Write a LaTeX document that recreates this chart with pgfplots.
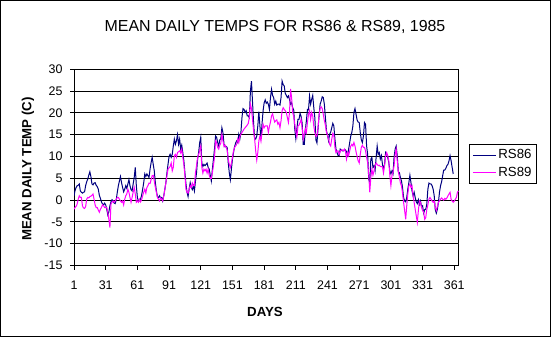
\documentclass[border=0pt]{standalone}
\usepackage{pgfplots}
\usepackage{pgfplotstable}
\pgfplotsset{compat=1.18}
\usepackage{fontspec}
\setmainfont{Liberation Sans}
\definecolor{rsblue}{RGB}{0,0,128}
\definecolor{rspink}{RGB}{255,0,255}
\pgfplotstableread{
d a b
1 1.0 -2.1
2 2.2 -1.7
3 2.9 -1.4
4 3.3 -0.9
5 3.4 0.2
6 3.7 1.0
7 2.1 0.6
8 1.8 0.6
9 1.6 -1.3
10 1.8 -1.8
11 1.9 -1.9
12 3.3 -1.5
13 4.2 0.2
14 4.8 0.6
15 5.7 0.5
16 6.5 0.8
17 5.4 0.9
18 3.7 1.1
19 3.5 1.4
20 3.9 0.2
21 4.0 -1.1
22 3.4 -1.7
23 3.1 -1.7
24 2.5 -2.3
25 1.1 -2.8
26 0.4 -2.1
27 -0.4 -1.7
28 -0.9 -1.1
29 -1.1 -1.3
30 -0.7 -1.7
31 -1.1 -1.7
32 -2.1 -1.7
33 -3.4 -2.8
34 -2.7 -4.4
35 -1.3 -6.3
36 -0.4 -0.9
37 0.1 -0.5
38 -0.2 -0.2
39 -0.7 -0.5
40 -0.8 -0.2
41 0.1 0.2
42 1.8 0.6
43 3.3 0.6
44 4.4 0.2
45 5.4 -0.2
46 4.0 -0.5
47 2.9 -0.2
48 1.9 -1.1
49 2.5 0.2
50 3.3 1.0
51 2.7 1.4
52 3.7 2.5
53 4.7 1.8
54 3.3 0.6
55 2.4 -0.5
56 2.1 0.6
57 3.7 1.8
58 5.2 2.9
59 7.5 1.4
60 3.3 -0.5
61 0.6 -0.2
62 -0.2 -0.5
63 -0.2 0.2
64 0.2 -0.4
65 1.1 0.1
66 2.5 1.0
67 4.0 1.8
68 6.0 2.5
69 5.4 1.6
70 6.0 2.9
71 5.6 3.3
72 5.2 3.9
73 7.1 3.8
74 8.6 4.7
75 9.8 5.6
76 8.2 5.7
77 6.7 4.4
78 4.0 2.9
79 2.1 1.8
80 0.8 0.6
81 0.6 0.2
82 1.0 -0.2
83 0.4 0.5
84 0.6 0.2
85 -0.2 -0.2
86 1.0 1.0
87 2.5 2.5
88 4.0 4.0
89 6.3 5.6
90 8.2 7.1
91 10.0 7.4
92 10.5 7.7
93 9.8 8.5
94 10.5 6.7
95 12.4 7.5
96 14.0 10.2
97 12.8 10.5
98 13.6 9.8
99 15.0 10.9
100 12.8 11.1
101 14.0 11.3
102 11.7 10.8
103 12.6 11.7
104 10.9 9.8
105 9.0 8.2
106 6.3 5.6
107 3.7 2.5
108 1.8 1.8
109 0.8 1.6
110 2.5 2.5
111 4.0 3.3
112 2.9 2.9
113 2.4 3.9
114 3.3 3.3
115 2.1 3.3
116 4.4 6.3
117 6.3 7.9
118 9.4 9.8
119 10.9 10.5
120 13.2 11.3
121 14.4 12.4
122 8.5 7.5
123 7.7 6.2
124 8.2 7.1
125 7.9 6.7
126 8.2 7.1
127 8.5 6.2
128 7.5 7.1
129 7.1 5.7
130 5.7 5.0
131 4.4 5.0
132 7.1 6.3
133 9.4 7.9
134 11.7 9.8
135 14.7 13.6
136 14.4 13.2
137 13.2 12.1
138 12.4 11.7
139 13.8 12.6
140 14.1 13.1
141 16.6 15.1
142 15.5 13.6
143 12.8 12.3
144 12.2 12.6
145 12.3 12.1
146 12.1 11.5
147 8.6 9.4
148 6.3 8.2
149 4.7 7.5
150 7.1 8.5
151 9.4 9.8
152 10.9 11.3
153 12.2 12.1
154 13.1 12.4
155 13.6 12.8
156 13.2 14.0
157 15.1 13.2
158 14.0 14.6
159 15.5 15.1
160 18.9 15.5
161 21.0 15.9
162 20.8 16.3
163 20.1 16.6
164 20.5 16.9
165 19.3 17.2
166 19.3 17.6
167 18.9 19.0
168 25.0 22.0
169 27.3 21.0
170 22.5 18.5
171 17.8 16.0
172 14.0 14.0
173 14.0 11.3
174 14.7 9.2
175 17.0 10.9
176 20.3 13.6
177 17.0 14.7
178 14.0 13.5
179 17.5 15.5
180 20.5 17.4
181 22.3 16.6
182 23.0 17.0
183 22.2 17.0
184 22.5 17.0
185 22.0 15.5
186 20.8 16.9
187 23.5 17.9
188 25.4 19.3
189 24.0 19.8
190 23.5 18.7
191 22.0 17.9
192 22.7 18.2
193 21.8 18.4
194 22.0 17.4
195 22.0 17.8
196 21.8 16.6
197 23.5 18.2
198 27.3 20.5
199 26.5 21.2
200 26.2 20.8
201 24.5 20.5
202 24.0 20.1
203 23.5 18.9
204 23.9 17.8
205 23.1 20.1
206 22.0 25.5
207 22.4 23.5
208 21.2 20.1
209 20.7 19.2
210 16.3 17.4
211 14.1 15.6
212 16.3 14.5
213 18.5 17.0
214 18.5 17.2
215 19.9 17.8
216 19.2 18.5
217 17.6 16.4
218 12.8 14.0
219 12.8 15.1
220 16.1 16.4
221 18.2 15.5
222 20.8 17.8
223 20.7 19.7
224 23.9 20.5
225 22.0 18.5
226 23.1 20.1
227 24.0 19.3
228 21.2 17.0
229 18.9 15.5
230 13.8 14.6
231 13.1 14.7
232 16.3 16.6
233 19.3 19.5
234 22.0 21.0
235 22.7 21.4
236 23.7 21.0
237 23.5 19.7
238 22.0 18.2
239 18.9 17.2
240 15.9 15.5
241 14.9 14.9
242 13.6 14.0
243 15.1 12.8
244 15.6 12.4
245 16.6 14.0
246 17.6 15.3
247 17.0 14.9
248 14.0 12.1
249 11.7 10.9
250 10.9 11.3
251 10.2 11.3
252 10.2 10.5
253 11.7 11.1
254 11.5 11.5
255 11.3 11.5
256 11.3 11.3
257 11.5 11.7
258 11.5 11.1
259 11.1 9.4
260 10.3 10.9
261 11.7 10.2
262 13.2 11.3
263 14.7 12.4
264 15.5 12.8
265 17.0 12.4
266 20.1 13.2
267 21.0 12.4
268 19.7 11.1
269 18.4 10.0
270 17.9 9.0
271 17.8 8.5
272 15.5 10.5
273 13.8 12.1
274 13.2 12.6
275 14.7 12.1
276 17.8 12.1
277 17.4 11.3
278 12.4 9.8
279 10.5 8.6
280 4.8 5.9
281 4.0 1.8
282 9.4 5.2
283 9.8 7.1
284 7.5 5.7
285 7.9 6.7
286 6.7 7.9
287 9.8 8.5
288 12.4 8.2
289 10.5 7.9
290 10.9 8.0
291 9.4 7.7
292 10.2 7.7
293 8.2 7.6
294 7.1 6.2
295 8.2 7.9
296 10.9 10.2
297 10.5 10.9
298 9.8 10.2
299 8.6 9.0
300 6.7 5.6
301 6.0 3.3
302 6.7 5.6
303 6.0 6.5
304 9.8 7.9
305 11.7 10.5
306 12.4 11.7
307 10.2 9.0
308 6.5 6.5
309 6.3 5.4
310 5.2 3.9
311 4.4 3.3
312 2.9 1.6
313 0.6 -0.5
314 -0.2 -2.4
315 -0.4 -4.4
316 0.6 -1.3
317 2.5 1.4
318 4.0 3.3
319 5.7 3.7
320 4.0 2.9
321 2.1 3.3
322 1.0 1.0
323 1.8 -0.5
324 0.6 -2.1
325 -0.4 -3.6
326 -0.8 -5.1
327 0.1 -2.4
328 -1.0 -0.2
329 -0.2 -0.5
330 -1.5 -1.7
331 -1.3 -2.4
332 -3.0 -2.7
333 -2.2 -4.4
334 -2.1 -4.0
335 -0.9 -2.1
336 2.5 -1.1
337 3.9 0.2
338 3.7 0.6
339 3.7 0.2
340 3.3 -0.2
341 2.5 -0.5
342 1.0 -0.2
343 -2.2 -1.7
344 -3.0 -2.4
345 -2.1 -1.4
346 -0.5 -0.5
347 1.8 -0.2
348 3.3 0.2
349 4.2 0.5
350 5.6 0.2
351 6.9 0.0
352 6.9 0.4
353 7.3 0.2
354 7.9 0.5
355 8.2 1.0
356 9.0 1.4
357 10.2 1.8
358 9.0 0.2
359 7.5 -0.2
360 6.0 -0.5
361 nan -0.2
362 nan 0.2
363 nan 0.6
364 nan 1.8
365 nan 2.1
}\tempdata
\begin{document}
\begin{tikzpicture}
\useasboundingbox (0,0) rectangle (551bp,337bp);
\fill[white] (0,0) rectangle (551bp,337bp);
\draw[black, line width=1bp] (0.5bp,0.5bp) rectangle (550.5bp,336.5bp);
\begin{axis}[
  at={(74bp,71.5bp)}, anchor=south west,
  scale only axis, width=384.5bp, height=196.2bp,
  xmin=1, xmax=365, ymin=-15, ymax=30,
  xtick={1,31,61,91,121,151,181,211,241,271,301,331,361},
  xticklabels={1,31,61,91,121,151,181,211,241,271,301,331,361},
  ytick={-15,-10,-5,0,5,10,15,20,25,30},
  yticklabels={-15,-10,-5,0,5,10,15,20,25,30},
  ymajorgrids, grid style={black, line width=1bp},
  axis line style={black, line width=1bp},
  tick style={black, line width=1bp},
  tick align=outside, major tick length=4bp,
  xtick pos=bottom, ytick pos=left,
  ticklabel style={font=\fontsize{12.5}{14}\selectfont},
  xticklabel style={yshift=-8bp},
  yticklabel style={xshift=-4bp},
  legend style={at={(1.027,0.618)}, anchor=north west, draw=black, line width=1bp,
    font=\fontsize{13.3}{15}\selectfont, inner xsep=3bp, inner ysep=3bp,
    row sep=3bp, legend cell align=left},
  legend image code/.code={\draw[#1, line width=1bp] (0bp,0bp) -- (23bp,0bp);},
]
\addplot[rsblue, line width=1bp] table[x=d, y=a] {\tempdata};
\addlegendentry{RS86}
\addplot[rspink, line width=1bp] table[x=d, y=b] {\tempdata};
\addlegendentry{RS89}
\end{axis}
\node[font=\fontsize{16}{19}\selectfont] at (275bp,310bp) {MEAN DAILY TEMPS FOR RS86 \& RS89, 1985};
\node[font=\bfseries\fontsize{13.3}{15}\selectfont] at (265bp,25bp) {DAYS};
\node[font=\bfseries\fontsize{13.3}{15}\selectfont, rotate=90] at (28bp,168bp) {MEAN DAILY TEMP (C)};
\end{tikzpicture}
\end{document}
